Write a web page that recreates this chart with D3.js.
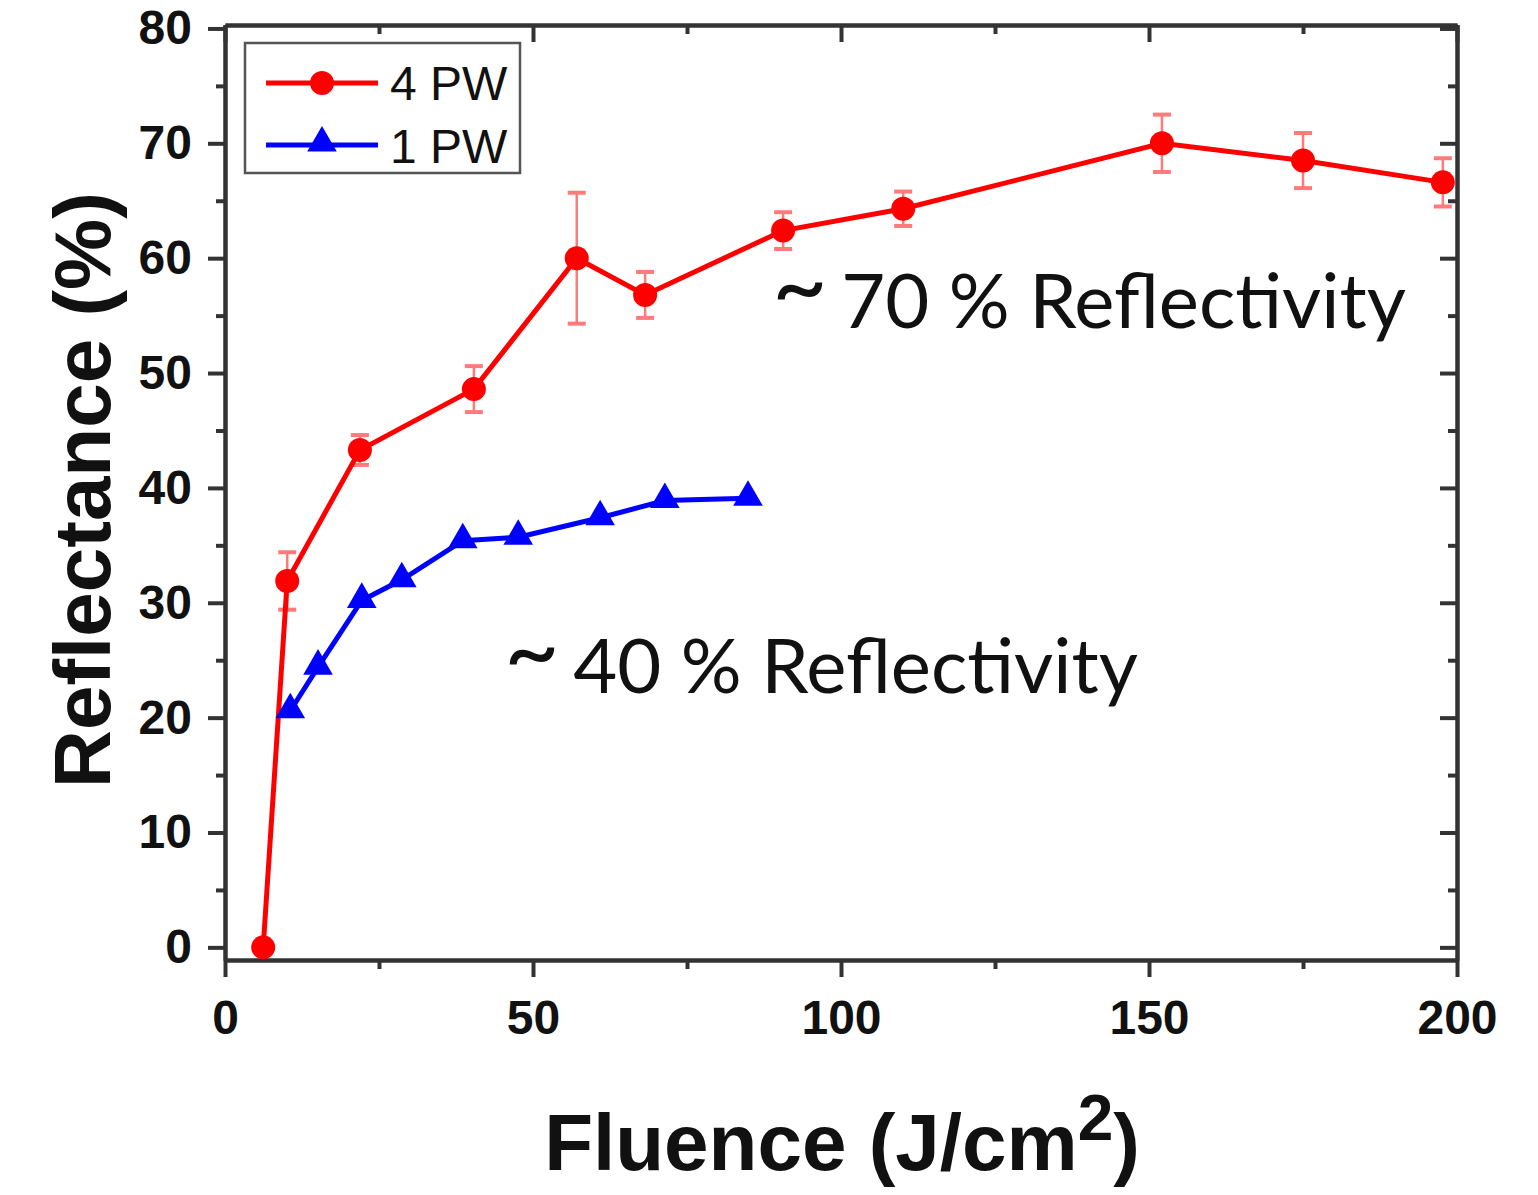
<!DOCTYPE html>
<meta charset="utf-8">
<script src="https://d3js.org/d3.v7.min.js"></script>
<style>
  body { margin: 0; background: #fff; }
  .tick text { font-family: "Liberation Sans", Arial, sans-serif; font-weight: bold; font-size: 48px; fill: #111; }
  .axis path, .axis line { stroke: #333; stroke-width: 4px; }
</style>
<body>
<script>
// 4 PW series (red, with error bars)
var fluence4 = [6.2, 10.1, 21.9, 40.4, 57.1, 68.2, 90.6, 110.1, 152.1, 175.0, 197.7];
var refl4    = [0, 31.9, 43.3, 48.6, 60.0, 56.8, 62.4, 64.3, 70.0, 68.5, 66.6];
var err4     = [0, 2.5, 1.3, 2.0, 5.7, 2.0, 1.6, 1.5, 2.5, 2.4, 2.1];
// 1 PW series (blue)
var fluence1 = [10.6, 15.1, 22.2, 28.7, 38.6, 47.6, 60.9, 71.4, 84.9];
var refl1    = [20.6, 24.4, 30.2, 32.0, 35.4, 35.7, 37.4, 38.9, 39.1];

var xTicks = [0, 50, 100, 150, 200];
var yTicks = [0, 10, 20, 30, 40, 50, 60, 70, 80];

var W = 1538, H = 1195;
var pLeft = 225, pRight = 1457, pTop = 25, pBottom = 960;

var svg = d3.select("body").append("svg")
  .attr("width", W)
  .attr("height", H);

var x = d3.scaleLinear().domain([0, 200]).range([pLeft, pRight]);
var y = d3.scaleLinear().domain([-1.1, 80.3]).range([pBottom, pTop]);

var minorX = d3.range(0, 201, 25).filter(function(d) { return d % 50 != 0; });
var minorY = d3.range(0, 81, 5).filter(function(d) { return d % 10 != 0; });

// bottom axis
svg.append("g").attr("class", "axis")
  .attr("transform", "translate(0," + pBottom + ")")
  .call(d3.axisBottom(x).tickValues(xTicks).tickSize(17).tickPadding(14).tickSizeOuter(0))
  .call(function(g) { g.selectAll("text").attr("dy", "0.9em"); });
svg.append("g").attr("class", "axis")
  .attr("transform", "translate(0," + pBottom + ")")
  .call(d3.axisBottom(x).tickValues(minorX).tickSize(9).tickFormat("").tickSizeOuter(0));

// left axis
svg.append("g").attr("class", "axis")
  .attr("transform", "translate(" + pLeft + ",0)")
  .call(d3.axisLeft(y).tickValues(yTicks).tickSize(17).tickPadding(16).tickSizeOuter(0));
svg.append("g").attr("class", "axis")
  .attr("transform", "translate(" + pLeft + ",0)")
  .call(d3.axisLeft(y).tickValues(minorY).tickSize(9).tickFormat("").tickSizeOuter(0));

// top + right mirror axes, ticks inward
svg.append("g").attr("class", "axis")
  .attr("transform", "translate(0," + pTop + ")")
  .call(d3.axisTop(x).tickValues(xTicks).tickSize(-17).tickFormat("").tickSizeOuter(0));
svg.append("g").attr("class", "axis")
  .attr("transform", "translate(0," + pTop + ")")
  .call(d3.axisTop(x).tickValues(minorX).tickSize(-9).tickFormat("").tickSizeOuter(0));
svg.append("g").attr("class", "axis")
  .attr("transform", "translate(" + pRight + ",0)")
  .call(d3.axisRight(y).tickValues(yTicks).tickSize(-17).tickFormat("").tickSizeOuter(0));
svg.append("g").attr("class", "axis")
  .attr("transform", "translate(" + pRight + ",0)")
  .call(d3.axisRight(y).tickValues(minorY).tickSize(-9).tickFormat("").tickSizeOuter(0));

var line = d3.line()
  .x(function(d) { return x(d[0]); })
  .y(function(d) { return y(d[1]); });

var red = "#ff0000", blue = "#0000ff";
var data4 = fluence4.map(function(f, i) { return [f, refl4[i], err4[i]]; });
var data1 = fluence1.map(function(f, i) { return [f, refl1[i]]; });

// error bars
var eb = svg.append("g").attr("stroke", "#ff7a7a").attr("stroke-width", 2.5);
data4.filter(function(d) { return d[2] > 0; }).forEach(function(d) {
  eb.append("line").attr("x1", x(d[0])).attr("x2", x(d[0])).attr("y1", y(d[1] - d[2])).attr("y2", y(d[1] + d[2]));
  eb.append("line").attr("x1", x(d[0]) - 9).attr("x2", x(d[0]) + 9).attr("y1", y(d[1] - d[2])).attr("y2", y(d[1] - d[2])).attr("stroke-width", 4);
  eb.append("line").attr("x1", x(d[0]) - 9).attr("x2", x(d[0]) + 9).attr("y1", y(d[1] + d[2])).attr("y2", y(d[1] + d[2])).attr("stroke-width", 4);
});

svg.append("path").datum(data4)
  .attr("fill", "none").attr("stroke", red).attr("stroke-width", 5)
  .attr("d", line);
svg.append("g").selectAll("circle").data(data4).enter().append("circle")
  .attr("cx", function(d) { return x(d[0]); })
  .attr("cy", function(d) { return y(d[1]); })
  .attr("r", 12).attr("fill", red);

svg.append("path").datum(data1)
  .attr("fill", "none").attr("stroke", blue).attr("stroke-width", 5)
  .attr("d", line);
var tri = d3.symbol().type(d3.symbolTriangle).size(380);
svg.append("g").selectAll("path").data(data1).enter().append("path")
  .attr("transform", function(d) { return "translate(" + x(d[0]) + "," + (y(d[1]) - 1) + ")"; })
  .attr("d", tri).attr("fill", blue);

// legend
var lg = svg.append("g");
lg.append("rect").attr("x", 245).attr("y", 43).attr("width", 275).attr("height", 130)
  .attr("fill", "#fff").attr("stroke", "#555").attr("stroke-width", 2.5);
lg.append("line").attr("x1", 266).attr("x2", 378).attr("y1", 83).attr("y2", 83).attr("stroke", red).attr("stroke-width", 5);
lg.append("circle").attr("cx", 322).attr("cy", 83).attr("r", 12).attr("fill", red);
lg.append("line").attr("x1", 266).attr("x2", 378).attr("y1", 145).attr("y2", 145).attr("stroke", blue).attr("stroke-width", 5);
lg.append("path").attr("transform", "translate(322,143)").attr("d", tri).attr("fill", blue);
lg.append("text").attr("x", 390).attr("y", 100).text("4 PW")
  .style("font-family", "Liberation Sans, Arial, sans-serif").style("font-size", "48px").attr("fill", "#111");
lg.append("text").attr("x", 390).attr("y", 163).text("1 PW")
  .style("font-family", "Liberation Sans, Arial, sans-serif").style("font-size", "48px").attr("fill", "#111");

// annotations
function note(tx, ty, label) {
  var t = svg.append("text").attr("x", tx).attr("y", ty)
    .style("font-family", "Lato, 'Open Sans', sans-serif").style("font-size", "76px").attr("fill", "#111");
  t.append("tspan").style("font-size", "96px").attr("dy", -8).text("~");
  t.append("tspan").attr("dy", 8).attr("dx", -6).text(" " + label);
  return t;
}
note(772, 328, "70 % Reflectivity");
note(504, 693, "40 % Reflectivity");

// axis titles
var xt = svg.append("text").attr("x", 842).attr("y", 1170).attr("text-anchor", "middle")
  .style("font-family", "Liberation Sans, Arial, sans-serif").style("font-weight", "bold").style("font-size", "80px").attr("fill", "#111");
xt.append("tspan").text("Fluence (J/cm");
xt.append("tspan").attr("dy", -30).style("font-size", "64px").text("2");
xt.append("tspan").attr("dy", 30).text(")");

svg.append("text")
  .attr("transform", "translate(110,490) rotate(-90)")
  .attr("text-anchor", "middle")
  .style("font-family", "Liberation Sans, Arial, sans-serif").style("font-weight", "bold").style("font-size", "80px").attr("fill", "#111")
  .text("Reflectance (%)");
</script>
</body>
